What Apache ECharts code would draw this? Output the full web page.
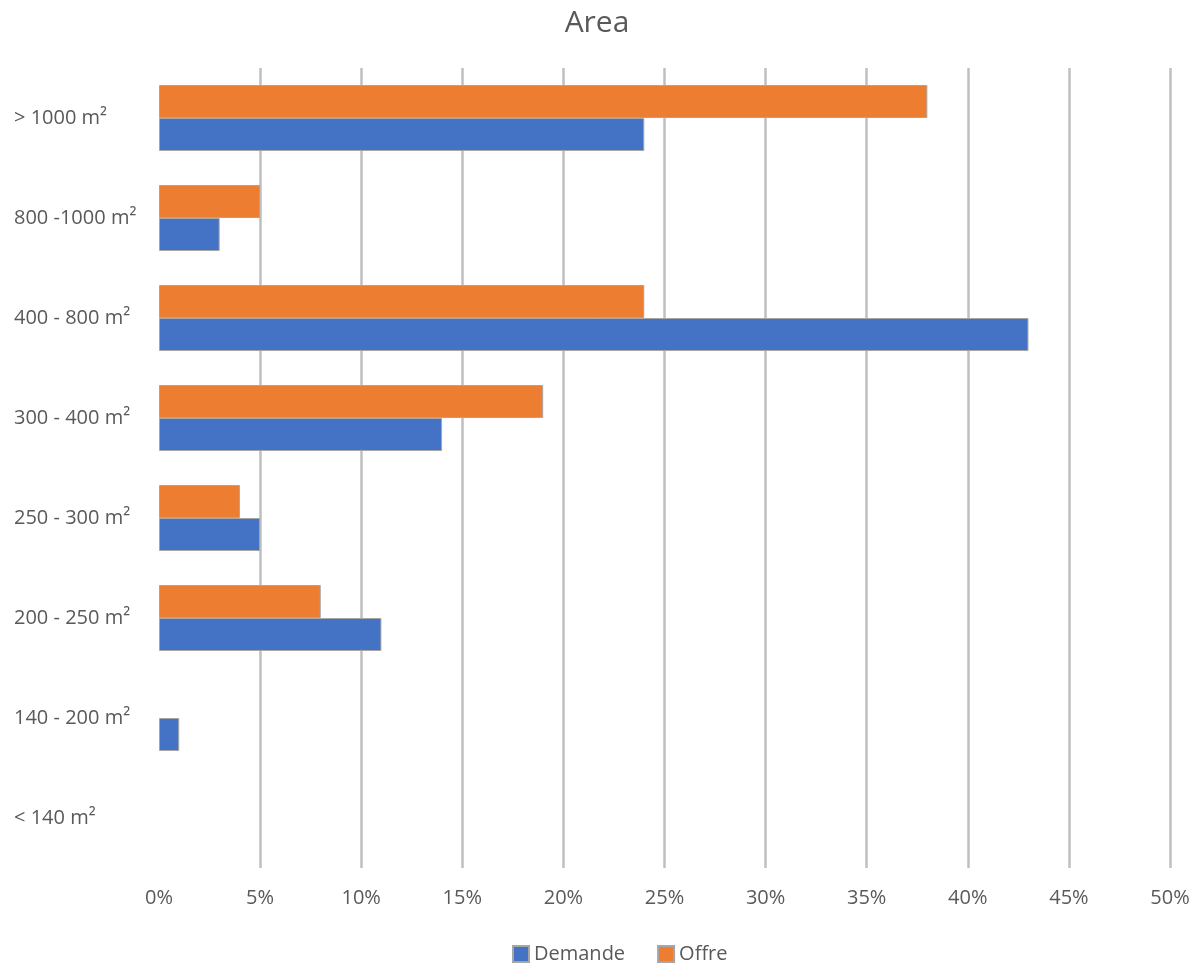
<!DOCTYPE html>
<html>
<head>
<meta charset="utf-8">
<script src="https://cdn.jsdelivr.net/npm/echarts@6/dist/echarts.min.js"></script>
<style>
  html, body { margin: 0; padding: 0; background: #fff; }
  #chart { width: 1194px; height: 966px; }
</style>
</head>
<body>
<div id="chart"></div>
<script>
// Surface classes, listed bottom to top along the category axis
const categories = ['< 140 m²', '140 - 200 m²', '200 - 250 m²', '250 - 300 m²', '300 - 400 m²', '400 - 800 m²', '800 -1000 m²', '> 1000 m²'];
// Share of each class, in percent
const demande = [0, 1, 11, 5, 14, 43, 3, 24];
const offre = [0, 0, 8, 4, 19, 24, 5, 38];
const seriesNames = ['Demande', 'Offre'];

const font = '"Open Sans", "Noto Sans", sans-serif';
const textColor = '#595959';

// Zero-length bars get no outline so they stay invisible
function withOutline(values) {
  return values.map(v => ({ value: v, itemStyle: { borderWidth: v === 0 ? 0 : 1 } }));
}

const chart = echarts.init(document.getElementById('chart'));
chart.setOption({
  animation: false,
  title: {
    text: 'Area',
    left: 'center',
    top: 3,
    textStyle: { fontFamily: font, fontSize: 30, fontWeight: 'normal', color: textColor }
  },
  legend: {
    data: seriesNames,
    bottom: -3,
    left: 507,
    itemWidth: 16,
    itemHeight: 16,
    itemGap: 32,
    icon: 'rect',
    textStyle: { fontFamily: font, fontSize: 20, color: textColor }
  },
  grid: { left: 159, right: 24, top: 68, bottom: 98, containLabel: false },
  xAxis: {
    type: 'value',
    min: 0,
    max: 50,
    interval: 5,
    axisLine: { show: false },
    axisTick: { show: false },
    axisLabel: {
      formatter: '{value}%',
      margin: 20,
      fontFamily: font,
      fontSize: 20,
      color: textColor
    },
    splitLine: { show: true, showMinLine: false, lineStyle: { color: '#bfbfbf', width: 2.5 } }
  },
  yAxis: {
    type: 'category',
    data: categories,
    axisLine: { show: false },
    axisTick: { show: false },
    axisLabel: { margin: 145, align: 'left', fontFamily: font, fontSize: 20, color: textColor }
  },
  series: [
    {
      name: seriesNames[1],
      type: 'bar',
      data: withOutline(offre),
      barGap: '0%',
      barCategoryGap: '34%',
      itemStyle: { color: '#ED7D31', borderColor: '#a6a6a6', borderWidth: 1 }
    },
    {
      name: seriesNames[0],
      type: 'bar',
      data: withOutline(demande),
      barGap: '0%',
      barCategoryGap: '34%',
      itemStyle: { color: '#4472C4', borderColor: '#a6a6a6', borderWidth: 1 }
    }
  ]
});
</script>
</body>
</html>
